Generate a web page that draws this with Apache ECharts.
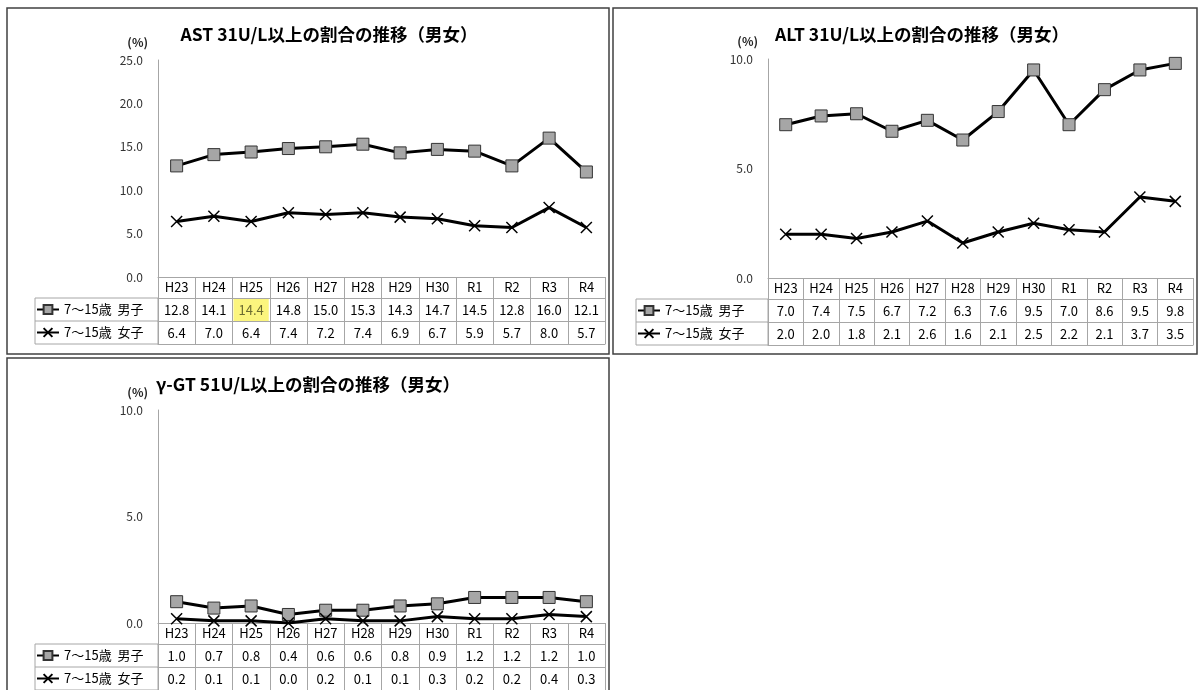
<!DOCTYPE html>
<html>
<head>
<meta charset="utf-8">
<script src="https://cdn.jsdelivr.net/npm/echarts@6/dist/echarts.min.js"></script>
<style>
html,body{margin:0;padding:0;background:#fff;}
#main{width:1200px;height:690px;}
</style>
</head>
<body>
<div id="main"></div>
<script>
const categories = ['H23','H24','H25','H26','H27','H28','H29','H30','R1','R2','R3','R4'];
const seriesNames = ['7～15歳  男子', '7～15歳  女子'];
const astMale   = [12.8,14.1,14.4,14.8,15.0,15.3,14.3,14.7,14.5,12.8,16.0,12.1];
const astFemale = [6.4,7.0,6.4,7.4,7.2,7.4,6.9,6.7,5.9,5.7,8.0,5.7];
const altMale   = [7.0,7.4,7.5,6.7,7.2,6.3,7.6,9.5,7.0,8.6,9.5,9.8];
const altFemale = [2.0,2.0,1.8,2.1,2.6,1.6,2.1,2.5,2.2,2.1,3.7,3.5];
const ggtMale   = [1.0,0.7,0.8,0.4,0.6,0.6,0.8,0.9,1.2,1.2,1.2,1.0];
const ggtFemale = [0.2,0.1,0.1,0.0,0.2,0.1,0.1,0.3,0.2,0.2,0.4,0.3];
const titles = ['AST 31U/L以上の割合の推移（男女）', 'ALT 31U/L以上の割合の推移（男女）', 'γ-GT 51U/L以上の割合の推移（男女）'];
const yMax = [25, 10, 10];
const yInterval = [5, 5, 5];
const unitLabel = '(%)';
// highlighted table cell in the reference (panel, row, column)
const highlightCell = {panel: 0, row: 0, col: 2};

const panelData = [[astMale, astFemale], [altMale, altFemale], [ggtMale, ggtFemale]];
const layout = [
  {left: 158, right: 595, top: 60, bottom: 277, labelLeft: 35, titleX: 324, titleY: 21, frame: [7, 8, 602, 346]},
  {left: 768, right: 7, top: 59, bottom: 278, labelLeft: 636, titleX: 917, titleY: 21, frame: [613, 8, 584, 346]},
  {left: 158, right: 595, top: 410, bottom: 623, labelLeft: 35, titleX: 303, titleY: 371, frame: [7, 358, 602, 345]}
];
const HEAD_H = 21, ROW_H = 23;
const FONT = "'Noto Sans CJK JP', 'Noto Sans', sans-serif";
const GRID_LINE = '#a6a6a6';

const option = {
  backgroundColor: '#ffffff',
  animation: false,
  textStyle: {fontFamily: FONT},
  title: [], grid: [], xAxis: [], yAxis: [], series: [], legend: [], graphic: []
};

layout.forEach((L, p) => {
  const gridW = 1200 - L.left - L.right;
  const cellW = gridW / categories.length;
  option.title.push({
    text: titles[p], left: L.titleX, top: L.titleY, textAlign: 'center',
    textStyle: {fontSize: 17.5, fontWeight: 'bold', color: '#000', fontFamily: FONT}
  });
  option.grid.push({left: L.left, right: L.right, top: L.top, height: L.bottom - L.top, containLabel: false});
  option.yAxis.push({
    type: 'value', gridIndex: p, min: 0, max: yMax[p], interval: yInterval[p],
    name: unitLabel, nameLocation: 'end', nameGap: 12,
    nameTextStyle: {align: 'right', padding: [0, 10, 0, 0], fontSize: 12, color: '#222', fontWeight: 'bold', fontFamily: FONT},
    axisLine: {show: true, lineStyle: {color: GRID_LINE, width: 1}},
    axisTick: {show: false},
    splitLine: {show: false},
    axisLabel: {margin: 15, fontSize: 12, color: '#333', formatter: v => v.toFixed(1)}
  });
  // header row (also the category axis of the plot)
  option.xAxis.push({
    type: 'category', gridIndex: p, data: categories, position: 'bottom', offset: 0, boundaryGap: true,
    axisLine: {show: true, lineStyle: {color: GRID_LINE, width: 1}},
    axisTick: {show: true, length: HEAD_H, interval: 0, lineStyle: {color: GRID_LINE, width: 1}},
    axisLabel: {interval: 0, margin: 4, fontSize: 13, color: '#000'}
  });
  // value rows
  [0, 1].forEach(r => {
    const vals = panelData[p][r];
    option.xAxis.push({
      type: 'category', gridIndex: p, data: categories, position: 'bottom', offset: HEAD_H + r * ROW_H, boundaryGap: true,
      axisLine: {show: true, lineStyle: {color: GRID_LINE, width: 1}},
      axisTick: {show: true, length: ROW_H, interval: 0, lineStyle: {color: GRID_LINE, width: 1}},
      axisLabel: {
        interval: 0, margin: 1, fontSize: 13, color: '#000',
        formatter: (v, idx) => {
          const s = vals[idx].toFixed(1);
          if (highlightCell.panel === p && highlightCell.row === r && highlightCell.col === idx) return '{hl|' + s + '}';
          return '{n|' + s + '}';
        },
        rich: {
          n: {width: cellW - 2, height: ROW_H - 1, lineHeight: ROW_H - 1, align: 'center', fontSize: 13, color: '#000'},
          hl: {width: cellW - 2, height: ROW_H - 1, lineHeight: ROW_H - 1, align: 'center', fontSize: 13, color: '#6b6b30', backgroundColor: '#fbf57e'}
        }
      }
    });
  });
  // bottom border of the table
  option.xAxis.push({
    type: 'category', gridIndex: p, data: categories, position: 'bottom', offset: HEAD_H + 2 * ROW_H, boundaryGap: true,
    axisLine: {show: true, lineStyle: {color: GRID_LINE, width: 1}},
    axisTick: {show: false}, axisLabel: {show: false}
  });

  const xi = p * 4;
  option.series.push({
    name: seriesNames[0], type: 'line', xAxisIndex: xi, yAxisIndex: p, data: panelData[p][0],
    symbol: 'rect', symbolSize: 12,
    lineStyle: {color: '#000', width: 3},
    itemStyle: {color: '#a6a6a6', borderColor: '#333', borderWidth: 1}
  });
  option.series.push({
    name: seriesNames[1], type: 'line', xAxisIndex: xi, yAxisIndex: p, data: panelData[p][1],
    symbol: 'path://M0,0L10,10M10,0L0,10', symbolSize: 11,
    lineStyle: {color: '#000', width: 3},
    itemStyle: {color: 'none', borderColor: '#000', borderWidth: 1.5}
  });

  option.legend.push({
    data: seriesNames, orient: 'vertical', left: L.labelLeft + 1, top: L.bottom + HEAD_H,
    itemGap: 0, itemWidth: 22, itemHeight: 11, padding: 0, selectedMode: false,
    textStyle: {fontSize: 13, lineHeight: ROW_H, color: '#000', fontFamily: FONT}
  });

  // label column borders of the table
  option.graphic.push({
    type: 'rect', silent: true,
    shape: {x: L.labelLeft, y: L.bottom + HEAD_H, width: L.left - L.labelLeft, height: 2 * ROW_H},
    style: {fill: 'none', stroke: GRID_LINE, lineWidth: 1}
  });
  option.graphic.push({
    type: 'line', silent: true,
    shape: {x1: L.labelLeft, y1: L.bottom + HEAD_H + ROW_H, x2: L.left, y2: L.bottom + HEAD_H + ROW_H},
    style: {stroke: GRID_LINE, lineWidth: 1}
  });
  // outer frame
  option.graphic.push({
    type: 'rect', silent: true,
    shape: {x: L.frame[0], y: L.frame[1], width: L.frame[2], height: L.frame[3]},
    style: {fill: 'none', stroke: '#404040', lineWidth: 1.5}
  });
});

const chart = echarts.init(document.getElementById('main'), null, {renderer: 'canvas'});
chart.setOption(option);
</script>
</body>
</html>
